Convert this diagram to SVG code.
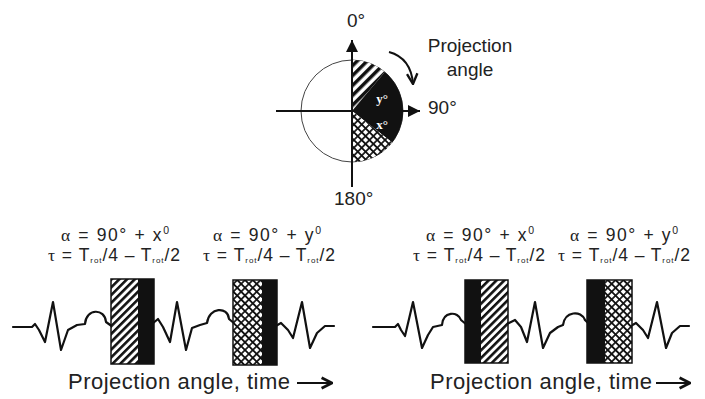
<svg xmlns="http://www.w3.org/2000/svg" width="705" height="399" viewBox="0 0 705 399">
<style>
.t{font-family:"Liberation Sans",Arial,sans-serif;fill:#222;}
.t tspan{fill:#222;}
.g{font-family:"Liberation Serif","Times New Roman",serif;}
.ecg{fill:none;stroke:#111;stroke-width:2.2;stroke-linejoin:round;stroke-linecap:round;}
.ax{stroke:#111;stroke-width:2;fill:none;}
.box{stroke:#111;stroke-width:1.5;}
</style>
<defs>
<pattern id="diag" patternUnits="userSpaceOnUse" width="5.5" height="5.5" patternTransform="rotate(45)">
<rect width="5.5" height="5.5" fill="#fff"/><rect width="2.6" height="5.5" fill="#111"/>
</pattern>
<pattern id="diag2" patternUnits="userSpaceOnUse" width="7" height="7" patternTransform="rotate(45)">
<rect width="7" height="7" fill="#fff"/><rect width="3.5" height="7" fill="#111"/>
</pattern>
<pattern id="xh" patternUnits="userSpaceOnUse" width="5.5" height="5.5" patternTransform="rotate(45)">
<rect width="5.5" height="5.5" fill="#fff"/><path d="M0,2.75H5.5M2.75,0V5.5" stroke="#111" stroke-width="1.7"/>
</pattern>
<marker id="tri" viewBox="0 0 10 10" refX="10" refY="5" markerWidth="14" markerHeight="12" markerUnits="userSpaceOnUse" orient="auto">
<path d="M0,0L10,5L0,10z" fill="#111"/>
</marker>
<marker id="vee" viewBox="0 0 10 10" refX="9" refY="5" markerWidth="13" markerHeight="13" markerUnits="userSpaceOnUse" orient="auto">
<path d="M1,1L9,5L1,9" fill="none" stroke="#111" stroke-width="1.8"/>
</marker>
<marker id="vee2" viewBox="0 0 10 10" refX="9" refY="5" markerWidth="13" markerHeight="15" markerUnits="userSpaceOnUse" orient="auto">
<path d="M1,1L9,5L1,9" fill="none" stroke="#111" stroke-width="2.2"/>
</marker>
</defs>
<rect width="705" height="399" fill="#fff"/>

<g id="polar">
<circle cx="352" cy="111" r="51" fill="none" stroke="#444" stroke-width="1"/>
<path d="M352,111 L352,60 A51,51 0 0 1 384.8,71.9 Z" fill="url(#diag2)"/>
<path d="M352,111 L384.8,71.9 A51,51 0 0 1 392.2,142.4 Z" fill="#111"/>
<path d="M352,111 L392.2,142.4 A51,51 0 0 1 352,162 Z" fill="url(#xh)"/>
<text class="g" x="382" y="103" text-anchor="middle" font-size="13" font-weight="bold" fill="#fff">y°</text>
<text class="g" x="382" y="129" text-anchor="middle" font-size="13" font-weight="bold" fill="#fff">x°</text>
<text class="t" x="347" y="27" font-size="19">0°</text>
<text class="t" x="428" y="114" font-size="19">90°</text>
<text class="t" x="334" y="205" font-size="19">180°</text>
<text class="t" x="470" y="52" font-size="19" text-anchor="middle">Projection</text>
<text class="t" x="470" y="76" font-size="19" text-anchor="middle">angle</text>
</g>

<g id="connectors">
<line class="ax" x1="352" y1="187" x2="352" y2="40" marker-end="url(#tri)"/>
<line class="ax" x1="276" y1="111" x2="420" y2="111" marker-end="url(#tri)"/>
<path class="ax" d="M389,52 Q411,58 413,84" marker-end="url(#vee)"/>
<line class="ax" x1="297" y1="383" x2="332" y2="383" stroke-width="2.6" marker-end="url(#vee2)"/>
<line class="ax" x1="656" y1="383" x2="690" y2="383" stroke-width="2.6" marker-end="url(#vee2)"/>
</g>

<g id="panel-left">
<text class="t" x="115" y="241" font-size="17.5" text-anchor="middle" textLength="108" lengthAdjust="spacing"><tspan class="g">α</tspan> = 90° + x<tspan font-size="10.5" dy="-7">0</tspan></text>
<text class="t" x="114" y="261" font-size="17.5" text-anchor="middle" textLength="132" lengthAdjust="spacing"><tspan class="g">τ</tspan> = T<tspan font-size="8" dy="2">rot</tspan><tspan dy="-2">/4 – T</tspan><tspan font-size="8" dy="2">rot</tspan><tspan dy="-2">/2</tspan></text>
<text class="t" x="267" y="241" font-size="17.5" text-anchor="middle" textLength="108" lengthAdjust="spacing"><tspan class="g">α</tspan> = 90° + y<tspan font-size="10.5" dy="-7">0</tspan></text>
<text class="t" x="269" y="261" font-size="17.5" text-anchor="middle" textLength="132" lengthAdjust="spacing"><tspan class="g">τ</tspan> = T<tspan font-size="8" dy="2">rot</tspan><tspan dy="-2">/4 – T</tspan><tspan font-size="8" dy="2">rot</tspan><tspan dy="-2">/2</tspan></text>
<path class="ecg" d="M13,327 L32,327 L35,324 L39,330 L45,342 L53,302 L61,350 L68,330 L77,325 L85,324 C86,308 105,308 106,322 L113,327"/>
<path class="ecg" d="M152,324 L158,319 L163,327 L170,342 L177,302 L186,350 L192,328 L200,325 L207,323 C209,307 228,306 229,319 L235,324"/>
<path class="ecg" d="M274,327 L281,323 L288,330 L293,338 L302,302 L310,348 L317,333 L325,326 L334,326"/>
<rect class="box" x="111" y="279" width="43" height="85" fill="url(#diag)"/>
<rect x="138" y="279" width="16" height="85" fill="#111"/>
<rect class="box" x="233" y="280" width="44" height="85" fill="url(#xh)"/>
<rect x="262" y="280" width="15" height="85" fill="#111"/>
<text class="t" x="68" y="389" font-size="22" textLength="222" lengthAdjust="spacing">Projection angle, time</text>
</g>

<g id="panel-right">
<text class="t" x="480" y="241" font-size="17.5" text-anchor="middle" textLength="108" lengthAdjust="spacing"><tspan class="g">α</tspan> = 90° + x<tspan font-size="10.5" dy="-7">0</tspan></text>
<text class="t" x="479" y="261" font-size="17.5" text-anchor="middle" textLength="132" lengthAdjust="spacing"><tspan class="g">τ</tspan> = T<tspan font-size="8" dy="2">rot</tspan><tspan dy="-2">/4 – T</tspan><tspan font-size="8" dy="2">rot</tspan><tspan dy="-2">/2</tspan></text>
<text class="t" x="624" y="241" font-size="17.5" text-anchor="middle" textLength="108" lengthAdjust="spacing"><tspan class="g">α</tspan> = 90° + y<tspan font-size="10.5" dy="-7">0</tspan></text>
<text class="t" x="624" y="261" font-size="17.5" text-anchor="middle" textLength="132" lengthAdjust="spacing"><tspan class="g">τ</tspan> = T<tspan font-size="8" dy="2">rot</tspan><tspan dy="-2">/4 – T</tspan><tspan font-size="8" dy="2">rot</tspan><tspan dy="-2">/2</tspan></text>
<g transform="translate(355,0)">
<path class="ecg" d="M18,327 L40,327 L43,324 L46,330 L50,336 L58,302 L67,348 L73,335 L78,327 L87,325 C88,311 103,311 106,320 L112,325"/>
<path class="ecg" d="M152,324 L160,320 L166,327 L172,342 L180,302 L188,348 L195,333 L203,327 L208,325 C210,311 226,310 230,320 L234,324"/>
<path class="ecg" d="M274,327 L281,323 L288,330 L293,338 L302,302 L311,348 L317,333 L325,326 L334,326"/>
<rect class="box" x="110" y="280" width="43" height="83" fill="url(#diag)"/>
<rect x="110" y="280" width="16" height="83" fill="#111"/>
<rect class="box" x="232" y="280" width="45" height="83" fill="url(#xh)"/>
<rect x="232" y="280" width="18" height="83" fill="#111"/>
</g>
<text class="t" x="430" y="389" font-size="22" textLength="222" lengthAdjust="spacing">Projection angle, time</text>
</g>
</svg>
